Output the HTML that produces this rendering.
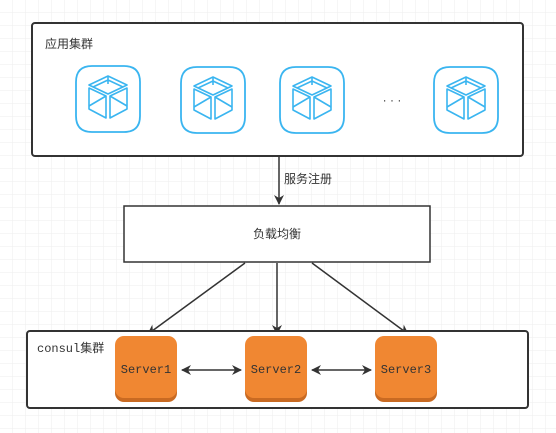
<!DOCTYPE html>
<html><head><meta charset="utf-8"><style>
html,body{margin:0;padding:0;background:#fff;}
svg{display:block;font-family:"Liberation Sans","Noto Sans CJK SC",sans-serif;}
</style></head><body>
<svg width="556" height="433" viewBox="0 0 556 433" xmlns="http://www.w3.org/2000/svg">
<defs>
<pattern id="g" width="13" height="13" patternUnits="userSpaceOnUse">
<path d="M13 0V13M0 13H13" stroke="#eeeeee" stroke-width="1" fill="none"/>
</pattern>
<marker id="ah" markerWidth="10" markerHeight="10" refX="9" refY="5" orient="auto" markerUnits="userSpaceOnUse">
<path d="M0,0 L10,5 L0,10 L3,5 Z" fill="#333"/>
</marker>
<marker id="as" markerWidth="10" markerHeight="10" refX="1" refY="5" orient="auto" markerUnits="userSpaceOnUse">
<path d="M10,0 L0,5 L10,10 L7,5 Z" fill="#333"/>
</marker>
<g id="icon">
<path d="M-16,-33 H16 Q32,-33 32,-17 V17 Q32,33 16,33 H-16 Q-32,33 -32,17 V-17 Q-32,-33 -16,-33 Z" fill="#fff" stroke="#3ab5f0" stroke-width="1.8"/>
<g fill="none" stroke="#3ab5f0" stroke-width="1.6" stroke-linejoin="round">
<path d="M0,-23 L-19,-14 L0,-5 L19,-14 Z"/>
<path d="M0,-23 V-15 M-15,-12 L0,-19 L15,-12"/>
<path d="M-19,-11 L-2,-3 V19 L-19,10 Z"/>
<path d="M19,-11 L2,-3 V19 L19,10 Z"/>
<path d="M-19,7 L-2,-3 M19,7 L2,-3"/>
</g>
</g>
<g id="srv">
<rect x="0" y="2" width="62" height="64" rx="9" fill="#c96a22"/>
<rect x="0" y="0" width="62" height="62" rx="9" fill="#f08732"/>
</g>
</defs>
<rect width="556" height="433" fill="url(#g)"/>

<rect x="32" y="23" width="491" height="133" rx="3" fill="#fff" stroke="#333" stroke-width="2"/>
<text x="45" y="48" font-size="12" fill="#333">应用集群</text>
<use href="#icon" x="108" y="99"/>
<use href="#icon" x="213" y="100"/>
<use href="#icon" x="312" y="100"/>
<use href="#icon" x="466" y="100"/>
<text x="392" y="104" font-size="12" fill="#333" text-anchor="middle">· · ·</text>

<line x1="279" y1="157" x2="279" y2="204" stroke="#333" stroke-width="1.5" marker-end="url(#ah)"/>
<text x="284" y="183" font-size="12" fill="#333">服务注册</text>

<rect x="124" y="206" width="306" height="56" fill="#fff" stroke="#333" stroke-width="1.5"/>
<text x="277" y="238" font-size="12" fill="#333" text-anchor="middle">负载均衡</text>

<line x1="245" y1="263" x2="148" y2="334" stroke="#333" stroke-width="1.5" marker-end="url(#ah)"/>
<line x1="277" y1="263" x2="277" y2="334" stroke="#333" stroke-width="1.5" marker-end="url(#ah)"/>
<line x1="312" y1="263" x2="408" y2="334" stroke="#333" stroke-width="1.5" marker-end="url(#ah)"/>

<rect x="27" y="331" width="501" height="77" rx="3" fill="#fff" stroke="#333" stroke-width="2"/>
<text x="37" y="352" font-size="12" fill="#333" font-family="Liberation Mono, Noto Sans CJK SC, monospace">consul集群</text>

<use href="#srv" x="115" y="336"/>
<use href="#srv" x="245" y="336"/>
<use href="#srv" x="375" y="336"/>
<text x="146" y="373" font-size="12" fill="#333" text-anchor="middle" font-family="Liberation Mono, monospace">Server1</text>
<text x="276" y="373" font-size="12" fill="#333" text-anchor="middle" font-family="Liberation Mono, monospace">Server2</text>
<text x="406" y="373" font-size="12" fill="#333" text-anchor="middle" font-family="Liberation Mono, monospace">Server3</text>

<line x1="182" y1="370" x2="241" y2="370" stroke="#333" stroke-width="1.5" marker-start="url(#as)" marker-end="url(#ah)"/>
<line x1="312" y1="370" x2="371" y2="370" stroke="#333" stroke-width="1.5" marker-start="url(#as)" marker-end="url(#ah)"/>
</svg>
</body></html>
